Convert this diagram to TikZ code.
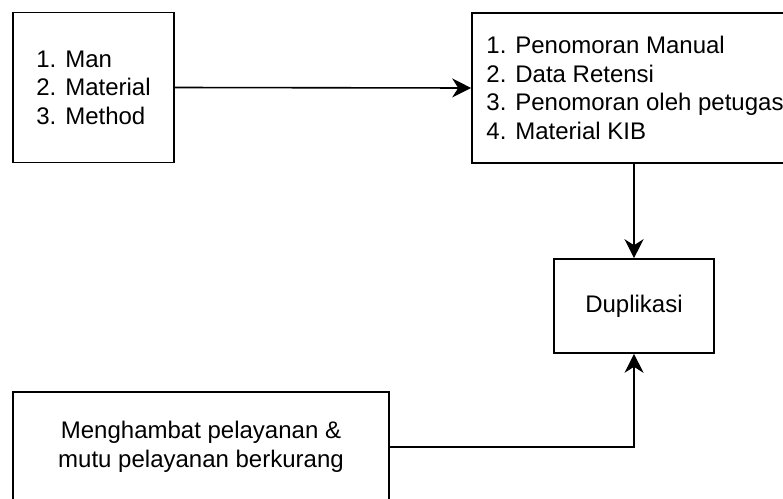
\documentclass[tikz,border=0pt]{standalone}
\usepackage{fontspec}
\setmainfont{Liberation Sans}
\usetikzlibrary{arrows.meta}
\begin{document}
\begin{tikzpicture}[x=1pt,y=-1pt,
  box/.style={draw=black, line width=1.6pt, inner sep=0pt, align=left,
    font=\fontsize{24}{28.5}\selectfont},
  conn/.style={line width=1.6pt, -{Stealth[length=19pt,width=19pt,inset=6pt]}}]
\useasboundingbox (0,0) rectangle (783,498);
\clip (0,0) rectangle (783,498);
\node[box, minimum width=161pt, minimum height=150pt] (causes) at (93.5,87.5)
  {1. Man\\2. Material\\3. Method};
\node[box, minimum width=326pt, minimum height=150pt] (factors) at (635,88)
  {1. Penomoran Manual\\2. Data Retensi\\3. Penomoran oleh petugas\\4. Material KIB};
\node[box, align=center, minimum width=160pt, minimum height=94pt] (dup) at (634,306)
  {Duplikasi};
\node[box, align=center, minimum width=376pt, minimum height=110pt] (effect) at (201,447)
  {Menghambat pelayanan \&\\mutu pelayanan berkurang};
\coordinate (c1) at (634,163);
\coordinate (c2) at (634,447);
\draw[conn] (causes.east) -- (factors.west);
\draw[conn] (c1) -- (dup.north);
\draw[conn] (effect.east) -- (c2) -- (dup.south);
\end{tikzpicture}
\end{document}
